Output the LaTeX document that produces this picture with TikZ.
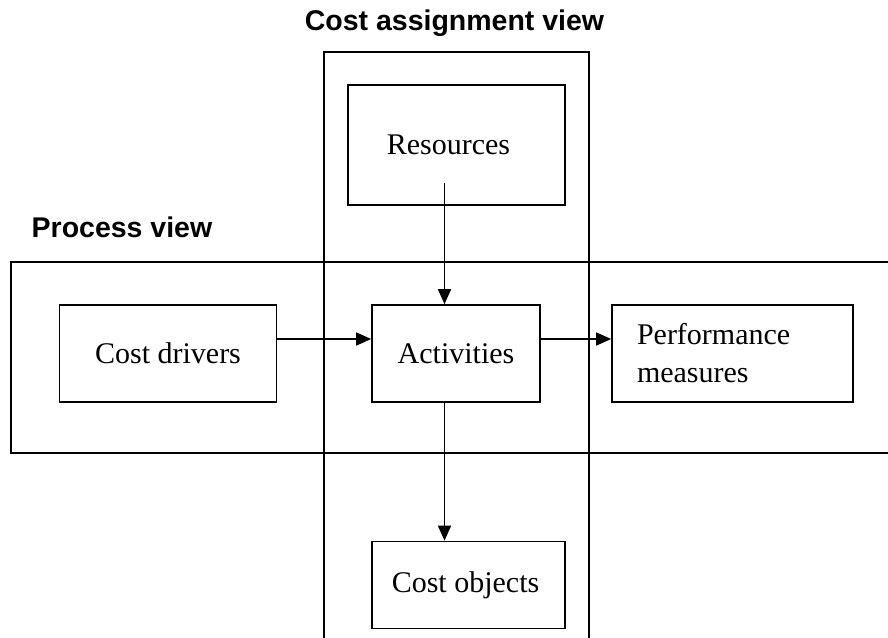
\documentclass[tikz,border=0pt]{standalone}
\usepackage{fontspec}
\setmainfont{Liberation Serif}
\newfontfamily\headfont{Liberation Sans}
\usetikzlibrary{arrows.meta}
\begin{document}
\begin{tikzpicture}[x=1pt,y=-1pt,
  band/.style={line width=1.7pt},
  box/.style={draw,line width=1.7pt,fill=white,inner sep=0pt,font=\fontsize{30}{38}\selectfont},
  head/.style={font=\headfont\bfseries\fontsize{28.5}{34}\selectfont},
  arr/.style={line width=1.7pt,-{Triangle[length=15pt,width=13pt]}}]
\useasboundingbox (0,0) rectangle (888,637);
\draw[band] (324,642) -- (324,52) -- (589,52) -- (589,642);
\draw[band] (893,262) -- (11,262) -- (11,453) -- (893,453);
\node[head] (t1) at (454.5,23) {Cost assignment view};
\node[head] (t2) at (122,227) {Process view};
\node[box,minimum width=217,minimum height=120] (res) at (456.5,145) {\hspace*{-16pt}Resources};
\node[box,minimum width=217,minimum height=97] (cd) at (168,353.5) {Cost drivers};
\node[box,minimum width=168,minimum height=97] (act) at (456,353.5) {Activities};
\node[box,minimum width=241,minimum height=97,text width=191,align=left,inner xsep=25pt] (pm) at (732.5,353.5) {Performance\\measures};
\node[box,minimum width=193,minimum height=87] (co) at (468.5,585) {\hspace*{-6pt}Cost objects};
\coordinate (rs) at (444.5,183);
\coordinate (yl) at (0,339);
\coordinate (xl) at (444.5,0);
\draw[arr] (rs) -- (rs |- act.north);
\draw[arr] (cd.east |- yl) -- (act.west |- yl);
\draw[arr] (act.east |- yl) -- (pm.west |- yl);
\draw[arr] (xl |- act.south) -- (xl |- co.north);
\end{tikzpicture}
\end{document}
